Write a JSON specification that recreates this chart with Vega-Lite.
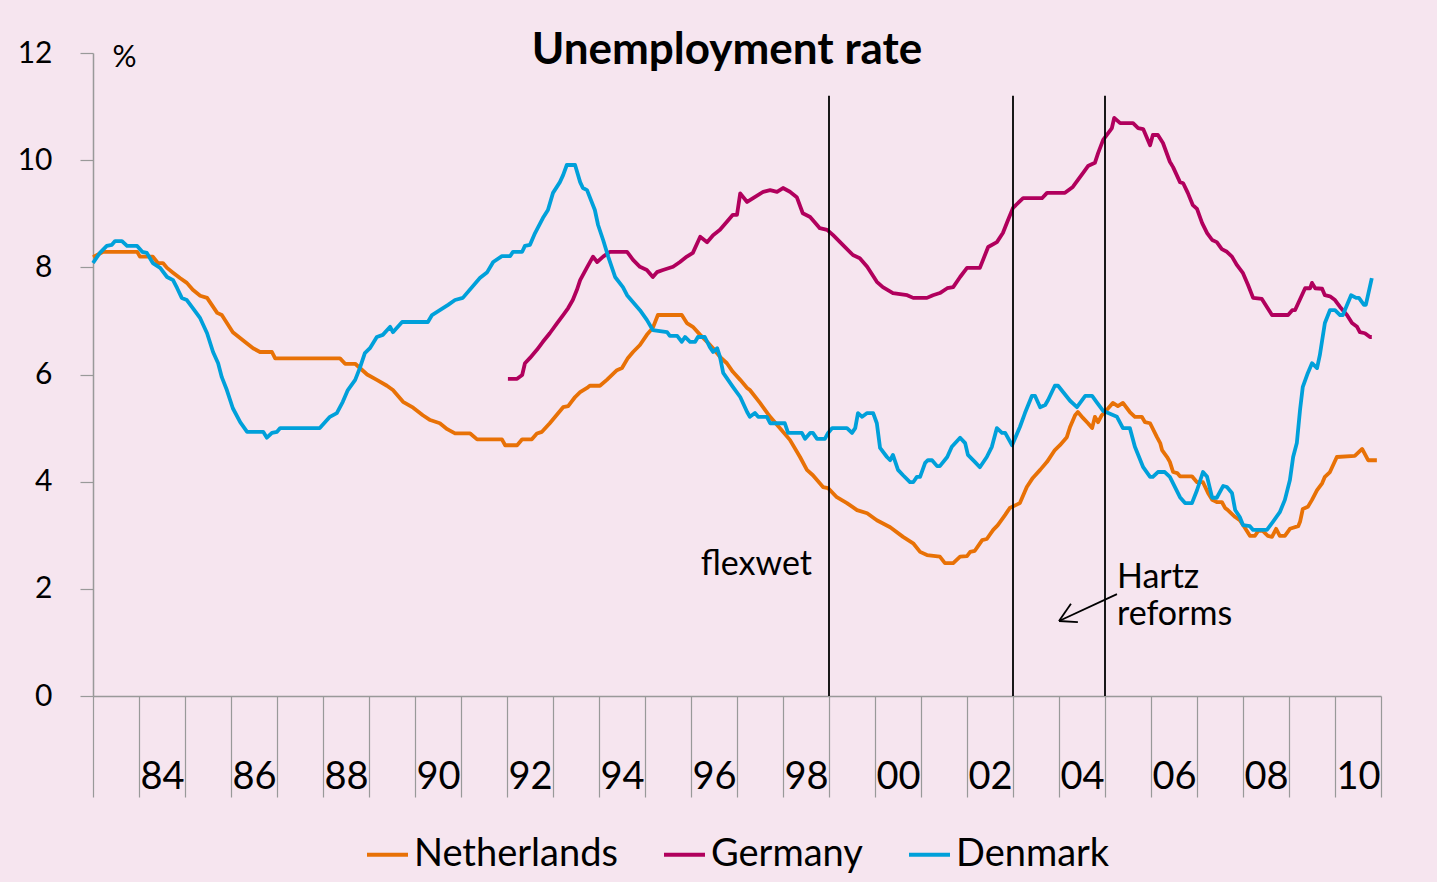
{
  "$schema": "https://vega.github.io/schema/vega-lite/v6.json",
  "width": 1288,
  "height": 643,
  "autosize": {"type": "none"},
  "padding": {"left": 93, "top": 53, "right": 56, "bottom": 186},
  "background": "#F6E5EF",
  "config": {
    "view": {"stroke": null},
    "font": "Lato",
    "legend": {"layout": {"bottom": {"anchor": "middle"}}}
  },
  "title": {
    "text": "Unemployment rate",
    "frame": "group",
    "anchor": "middle",
    "offset": -12,
    "dy": 58,
    "baseline": "alphabetic",
    "dx": -10,
    "font": "Lato",
    "fontSize": 44,
    "fontWeight": "bold",
    "color": "#000000"
  },
  "datasets": {
    "series": [
      {"country":"Netherlands","year":1983.00,"rate":8.19},
      {"country":"Netherlands","year":1983.22,"rate":8.29},
      {"country":"Netherlands","year":1983.96,"rate":8.29},
      {"country":"Netherlands","year":1984.02,"rate":8.2},
      {"country":"Netherlands","year":1984.30,"rate":8.2},
      {"country":"Netherlands","year":1984.41,"rate":8.08},
      {"country":"Netherlands","year":1984.52,"rate":8.08},
      {"country":"Netherlands","year":1984.61,"rate":7.99},
      {"country":"Netherlands","year":1984.74,"rate":7.9},
      {"country":"Netherlands","year":1984.89,"rate":7.8},
      {"country":"Netherlands","year":1985.04,"rate":7.71},
      {"country":"Netherlands","year":1985.17,"rate":7.58},
      {"country":"Netherlands","year":1985.33,"rate":7.47},
      {"country":"Netherlands","year":1985.48,"rate":7.43},
      {"country":"Netherlands","year":1985.70,"rate":7.15},
      {"country":"Netherlands","year":1985.80,"rate":7.11},
      {"country":"Netherlands","year":1986.04,"rate":6.79},
      {"country":"Netherlands","year":1986.30,"rate":6.61},
      {"country":"Netherlands","year":1986.48,"rate":6.49},
      {"country":"Netherlands","year":1986.63,"rate":6.42},
      {"country":"Netherlands","year":1986.89,"rate":6.42},
      {"country":"Netherlands","year":1986.96,"rate":6.3},
      {"country":"Netherlands","year":1988.37,"rate":6.3},
      {"country":"Netherlands","year":1988.48,"rate":6.2},
      {"country":"Netherlands","year":1988.70,"rate":6.2},
      {"country":"Netherlands","year":1988.96,"rate":6.0},
      {"country":"Netherlands","year":1989.17,"rate":5.9},
      {"country":"Netherlands","year":1989.39,"rate":5.79},
      {"country":"Netherlands","year":1989.52,"rate":5.71},
      {"country":"Netherlands","year":1989.74,"rate":5.49},
      {"country":"Netherlands","year":1989.96,"rate":5.38},
      {"country":"Netherlands","year":1990.17,"rate":5.24},
      {"country":"Netherlands","year":1990.33,"rate":5.15},
      {"country":"Netherlands","year":1990.54,"rate":5.09},
      {"country":"Netherlands","year":1990.70,"rate":4.98},
      {"country":"Netherlands","year":1990.87,"rate":4.9},
      {"country":"Netherlands","year":1991.20,"rate":4.9},
      {"country":"Netherlands","year":1991.35,"rate":4.79},
      {"country":"Netherlands","year":1991.89,"rate":4.79},
      {"country":"Netherlands","year":1991.96,"rate":4.68},
      {"country":"Netherlands","year":1992.22,"rate":4.68},
      {"country":"Netherlands","year":1992.33,"rate":4.79},
      {"country":"Netherlands","year":1992.54,"rate":4.79},
      {"country":"Netherlands","year":1992.65,"rate":4.9},
      {"country":"Netherlands","year":1992.76,"rate":4.93},
      {"country":"Netherlands","year":1992.93,"rate":5.09},
      {"country":"Netherlands","year":1993.22,"rate":5.39},
      {"country":"Netherlands","year":1993.33,"rate":5.41},
      {"country":"Netherlands","year":1993.48,"rate":5.58},
      {"country":"Netherlands","year":1993.59,"rate":5.67},
      {"country":"Netherlands","year":1993.74,"rate":5.75},
      {"country":"Netherlands","year":1993.80,"rate":5.79},
      {"country":"Netherlands","year":1994.02,"rate":5.79},
      {"country":"Netherlands","year":1994.17,"rate":5.9},
      {"country":"Netherlands","year":1994.39,"rate":6.08},
      {"country":"Netherlands","year":1994.50,"rate":6.12},
      {"country":"Netherlands","year":1994.63,"rate":6.31},
      {"country":"Netherlands","year":1994.74,"rate":6.42},
      {"country":"Netherlands","year":1994.89,"rate":6.55},
      {"country":"Netherlands","year":1995.04,"rate":6.74},
      {"country":"Netherlands","year":1995.17,"rate":6.87},
      {"country":"Netherlands","year":1995.28,"rate":7.11},
      {"country":"Netherlands","year":1995.80,"rate":7.11},
      {"country":"Netherlands","year":1995.91,"rate":6.96},
      {"country":"Netherlands","year":1996.04,"rate":6.89},
      {"country":"Netherlands","year":1996.20,"rate":6.74},
      {"country":"Netherlands","year":1996.35,"rate":6.61},
      {"country":"Netherlands","year":1996.48,"rate":6.49},
      {"country":"Netherlands","year":1996.63,"rate":6.33},
      {"country":"Netherlands","year":1996.78,"rate":6.21},
      {"country":"Netherlands","year":1996.91,"rate":6.05},
      {"country":"Netherlands","year":1997.07,"rate":5.9},
      {"country":"Netherlands","year":1997.22,"rate":5.75},
      {"country":"Netherlands","year":1997.28,"rate":5.71},
      {"country":"Netherlands","year":1997.50,"rate":5.47},
      {"country":"Netherlands","year":1997.72,"rate":5.21},
      {"country":"Netherlands","year":1997.93,"rate":5.0},
      {"country":"Netherlands","year":1998.15,"rate":4.78},
      {"country":"Netherlands","year":1998.37,"rate":4.46},
      {"country":"Netherlands","year":1998.52,"rate":4.22},
      {"country":"Netherlands","year":1998.65,"rate":4.12},
      {"country":"Netherlands","year":1998.80,"rate":3.97},
      {"country":"Netherlands","year":1998.87,"rate":3.9},
      {"country":"Netherlands","year":1998.98,"rate":3.88},
      {"country":"Netherlands","year":1999.17,"rate":3.71},
      {"country":"Netherlands","year":1999.39,"rate":3.6},
      {"country":"Netherlands","year":1999.61,"rate":3.47},
      {"country":"Netherlands","year":1999.83,"rate":3.41},
      {"country":"Netherlands","year":2000.04,"rate":3.28},
      {"country":"Netherlands","year":2000.33,"rate":3.15},
      {"country":"Netherlands","year":2000.61,"rate":2.97},
      {"country":"Netherlands","year":2000.83,"rate":2.85},
      {"country":"Netherlands","year":2000.98,"rate":2.69},
      {"country":"Netherlands","year":2001.13,"rate":2.63},
      {"country":"Netherlands","year":2001.41,"rate":2.6},
      {"country":"Netherlands","year":2001.52,"rate":2.48},
      {"country":"Netherlands","year":2001.70,"rate":2.48},
      {"country":"Netherlands","year":2001.85,"rate":2.6},
      {"country":"Netherlands","year":2002.00,"rate":2.61},
      {"country":"Netherlands","year":2002.07,"rate":2.69},
      {"country":"Netherlands","year":2002.17,"rate":2.71},
      {"country":"Netherlands","year":2002.33,"rate":2.91},
      {"country":"Netherlands","year":2002.43,"rate":2.93},
      {"country":"Netherlands","year":2002.57,"rate":3.1},
      {"country":"Netherlands","year":2002.67,"rate":3.19},
      {"country":"Netherlands","year":2002.83,"rate":3.38},
      {"country":"Netherlands","year":2002.93,"rate":3.51},
      {"country":"Netherlands","year":2003.15,"rate":3.6},
      {"country":"Netherlands","year":2003.30,"rate":3.9},
      {"country":"Netherlands","year":2003.43,"rate":4.07},
      {"country":"Netherlands","year":2003.59,"rate":4.22},
      {"country":"Netherlands","year":2003.74,"rate":4.37},
      {"country":"Netherlands","year":2003.91,"rate":4.59},
      {"country":"Netherlands","year":2004.02,"rate":4.68},
      {"country":"Netherlands","year":2004.17,"rate":4.83},
      {"country":"Netherlands","year":2004.24,"rate":5.02},
      {"country":"Netherlands","year":2004.35,"rate":5.24},
      {"country":"Netherlands","year":2004.41,"rate":5.3},
      {"country":"Netherlands","year":2004.52,"rate":5.19},
      {"country":"Netherlands","year":2004.63,"rate":5.09},
      {"country":"Netherlands","year":2004.72,"rate":5.0},
      {"country":"Netherlands","year":2004.78,"rate":5.21},
      {"country":"Netherlands","year":2004.85,"rate":5.11},
      {"country":"Netherlands","year":2004.93,"rate":5.24},
      {"country":"Netherlands","year":2005.07,"rate":5.37},
      {"country":"Netherlands","year":2005.17,"rate":5.47},
      {"country":"Netherlands","year":2005.28,"rate":5.41},
      {"country":"Netherlands","year":2005.39,"rate":5.47},
      {"country":"Netherlands","year":2005.54,"rate":5.3},
      {"country":"Netherlands","year":2005.65,"rate":5.21},
      {"country":"Netherlands","year":2005.80,"rate":5.21},
      {"country":"Netherlands","year":2005.87,"rate":5.11},
      {"country":"Netherlands","year":2005.98,"rate":5.09},
      {"country":"Netherlands","year":2006.13,"rate":4.83},
      {"country":"Netherlands","year":2006.20,"rate":4.72},
      {"country":"Netherlands","year":2006.24,"rate":4.59},
      {"country":"Netherlands","year":2006.35,"rate":4.46},
      {"country":"Netherlands","year":2006.41,"rate":4.37},
      {"country":"Netherlands","year":2006.48,"rate":4.18},
      {"country":"Netherlands","year":2006.57,"rate":4.16},
      {"country":"Netherlands","year":2006.63,"rate":4.1},
      {"country":"Netherlands","year":2006.89,"rate":4.1},
      {"country":"Netherlands","year":2007.00,"rate":3.99},
      {"country":"Netherlands","year":2007.13,"rate":3.99},
      {"country":"Netherlands","year":2007.24,"rate":3.79},
      {"country":"Netherlands","year":2007.33,"rate":3.66},
      {"country":"Netherlands","year":2007.43,"rate":3.62},
      {"country":"Netherlands","year":2007.54,"rate":3.62},
      {"country":"Netherlands","year":2007.61,"rate":3.51},
      {"country":"Netherlands","year":2007.67,"rate":3.47},
      {"country":"Netherlands","year":2007.83,"rate":3.34},
      {"country":"Netherlands","year":2007.93,"rate":3.28},
      {"country":"Netherlands","year":2008.04,"rate":3.14},
      {"country":"Netherlands","year":2008.15,"rate":2.99},
      {"country":"Netherlands","year":2008.26,"rate":2.99},
      {"country":"Netherlands","year":2008.33,"rate":3.08},
      {"country":"Netherlands","year":2008.43,"rate":3.08},
      {"country":"Netherlands","year":2008.54,"rate":2.99},
      {"country":"Netherlands","year":2008.63,"rate":2.97},
      {"country":"Netherlands","year":2008.72,"rate":3.12},
      {"country":"Netherlands","year":2008.80,"rate":2.99},
      {"country":"Netherlands","year":2008.91,"rate":2.99},
      {"country":"Netherlands","year":2009.02,"rate":3.12},
      {"country":"Netherlands","year":2009.09,"rate":3.14},
      {"country":"Netherlands","year":2009.20,"rate":3.17},
      {"country":"Netherlands","year":2009.24,"rate":3.25},
      {"country":"Netherlands","year":2009.30,"rate":3.49},
      {"country":"Netherlands","year":2009.41,"rate":3.53},
      {"country":"Netherlands","year":2009.50,"rate":3.66},
      {"country":"Netherlands","year":2009.61,"rate":3.84},
      {"country":"Netherlands","year":2009.72,"rate":3.97},
      {"country":"Netherlands","year":2009.78,"rate":4.09},
      {"country":"Netherlands","year":2009.89,"rate":4.18},
      {"country":"Netherlands","year":2010.04,"rate":4.46},
      {"country":"Netherlands","year":2010.43,"rate":4.48},
      {"country":"Netherlands","year":2010.59,"rate":4.61},
      {"country":"Netherlands","year":2010.72,"rate":4.4},
      {"country":"Netherlands","year":2010.91,"rate":4.4},

      {"country":"Germany","year":1992.02,"rate":5.92},
      {"country":"Germany","year":1992.22,"rate":5.92},
      {"country":"Germany","year":1992.33,"rate":5.99},
      {"country":"Germany","year":1992.39,"rate":6.21},
      {"country":"Germany","year":1992.50,"rate":6.31},
      {"country":"Germany","year":1992.65,"rate":6.46},
      {"country":"Germany","year":1992.78,"rate":6.61},
      {"country":"Germany","year":1992.93,"rate":6.77},
      {"country":"Germany","year":1993.09,"rate":6.96},
      {"country":"Germany","year":1993.22,"rate":7.11},
      {"country":"Germany","year":1993.33,"rate":7.24},
      {"country":"Germany","year":1993.43,"rate":7.39},
      {"country":"Germany","year":1993.52,"rate":7.58},
      {"country":"Germany","year":1993.59,"rate":7.76},
      {"country":"Germany","year":1993.74,"rate":8.0},
      {"country":"Germany","year":1993.87,"rate":8.2},
      {"country":"Germany","year":1993.96,"rate":8.1},
      {"country":"Germany","year":1994.09,"rate":8.2},
      {"country":"Germany","year":1994.24,"rate":8.29},
      {"country":"Germany","year":1994.61,"rate":8.29},
      {"country":"Germany","year":1994.74,"rate":8.14},
      {"country":"Germany","year":1994.89,"rate":8.01},
      {"country":"Germany","year":1995.04,"rate":7.95},
      {"country":"Germany","year":1995.17,"rate":7.82},
      {"country":"Germany","year":1995.26,"rate":7.91},
      {"country":"Germany","year":1995.39,"rate":7.95},
      {"country":"Germany","year":1995.61,"rate":8.01},
      {"country":"Germany","year":1995.76,"rate":8.1},
      {"country":"Germany","year":1995.91,"rate":8.2},
      {"country":"Germany","year":1996.04,"rate":8.27},
      {"country":"Germany","year":1996.20,"rate":8.57},
      {"country":"Germany","year":1996.35,"rate":8.47},
      {"country":"Germany","year":1996.48,"rate":8.6},
      {"country":"Germany","year":1996.63,"rate":8.7},
      {"country":"Germany","year":1996.78,"rate":8.85},
      {"country":"Germany","year":1996.91,"rate":8.98},
      {"country":"Germany","year":1997.00,"rate":8.98},
      {"country":"Germany","year":1997.07,"rate":9.38},
      {"country":"Germany","year":1997.22,"rate":9.22},
      {"country":"Germany","year":1997.35,"rate":9.29},
      {"country":"Germany","year":1997.57,"rate":9.41},
      {"country":"Germany","year":1997.72,"rate":9.44},
      {"country":"Germany","year":1997.87,"rate":9.41},
      {"country":"Germany","year":1998.00,"rate":9.48},
      {"country":"Germany","year":1998.15,"rate":9.41},
      {"country":"Germany","year":1998.30,"rate":9.31},
      {"country":"Germany","year":1998.43,"rate":9.01},
      {"country":"Germany","year":1998.59,"rate":8.94},
      {"country":"Germany","year":1998.74,"rate":8.79},
      {"country":"Germany","year":1998.80,"rate":8.73},
      {"country":"Germany","year":1998.96,"rate":8.7},
      {"country":"Germany","year":1999.09,"rate":8.6},
      {"country":"Germany","year":1999.30,"rate":8.42},
      {"country":"Germany","year":1999.52,"rate":8.23},
      {"country":"Germany","year":1999.67,"rate":8.17},
      {"country":"Germany","year":1999.83,"rate":8.01},
      {"country":"Germany","year":2000.04,"rate":7.73},
      {"country":"Germany","year":2000.17,"rate":7.63},
      {"country":"Germany","year":2000.39,"rate":7.52},
      {"country":"Germany","year":2000.70,"rate":7.48},
      {"country":"Germany","year":2000.83,"rate":7.43},
      {"country":"Germany","year":2001.13,"rate":7.43},
      {"country":"Germany","year":2001.26,"rate":7.48},
      {"country":"Germany","year":2001.41,"rate":7.52},
      {"country":"Germany","year":2001.57,"rate":7.61},
      {"country":"Germany","year":2001.70,"rate":7.63},
      {"country":"Germany","year":2001.85,"rate":7.82},
      {"country":"Germany","year":2002.00,"rate":7.99},
      {"country":"Germany","year":2002.28,"rate":7.99},
      {"country":"Germany","year":2002.46,"rate":8.38},
      {"country":"Germany","year":2002.65,"rate":8.47},
      {"country":"Germany","year":2002.78,"rate":8.64},
      {"country":"Germany","year":2002.89,"rate":8.88},
      {"country":"Germany","year":2003.00,"rate":9.11},
      {"country":"Germany","year":2003.22,"rate":9.29},
      {"country":"Germany","year":2003.63,"rate":9.29},
      {"country":"Germany","year":2003.74,"rate":9.39},
      {"country":"Germany","year":2004.13,"rate":9.39},
      {"country":"Germany","year":2004.30,"rate":9.5},
      {"country":"Germany","year":2004.52,"rate":9.76},
      {"country":"Germany","year":2004.63,"rate":9.89},
      {"country":"Germany","year":2004.78,"rate":9.95},
      {"country":"Germany","year":2004.85,"rate":10.13},
      {"country":"Germany","year":2004.96,"rate":10.38},
      {"country":"Germany","year":2005.15,"rate":10.6},
      {"country":"Germany","year":2005.20,"rate":10.79},
      {"country":"Germany","year":2005.33,"rate":10.69},
      {"country":"Germany","year":2005.61,"rate":10.69},
      {"country":"Germany","year":2005.72,"rate":10.6},
      {"country":"Germany","year":2005.83,"rate":10.58},
      {"country":"Germany","year":2005.98,"rate":10.28},
      {"country":"Germany","year":2006.04,"rate":10.47},
      {"country":"Germany","year":2006.15,"rate":10.47},
      {"country":"Germany","year":2006.26,"rate":10.32},
      {"country":"Germany","year":2006.41,"rate":9.97},
      {"country":"Germany","year":2006.48,"rate":9.87},
      {"country":"Germany","year":2006.63,"rate":9.59},
      {"country":"Germany","year":2006.70,"rate":9.57},
      {"country":"Germany","year":2006.80,"rate":9.39},
      {"country":"Germany","year":2006.91,"rate":9.16},
      {"country":"Germany","year":2007.00,"rate":9.09},
      {"country":"Germany","year":2007.11,"rate":8.83},
      {"country":"Germany","year":2007.22,"rate":8.64},
      {"country":"Germany","year":2007.33,"rate":8.51},
      {"country":"Germany","year":2007.43,"rate":8.47},
      {"country":"Germany","year":2007.54,"rate":8.34},
      {"country":"Germany","year":2007.65,"rate":8.29},
      {"country":"Germany","year":2007.76,"rate":8.2},
      {"country":"Germany","year":2007.87,"rate":8.04},
      {"country":"Germany","year":2008.00,"rate":7.89},
      {"country":"Germany","year":2008.11,"rate":7.67},
      {"country":"Germany","year":2008.22,"rate":7.43},
      {"country":"Germany","year":2008.41,"rate":7.41},
      {"country":"Germany","year":2008.52,"rate":7.26},
      {"country":"Germany","year":2008.63,"rate":7.11},
      {"country":"Germany","year":2008.98,"rate":7.11},
      {"country":"Germany","year":2009.07,"rate":7.2},
      {"country":"Germany","year":2009.13,"rate":7.2},
      {"country":"Germany","year":2009.28,"rate":7.48},
      {"country":"Germany","year":2009.35,"rate":7.61},
      {"country":"Germany","year":2009.46,"rate":7.61},
      {"country":"Germany","year":2009.50,"rate":7.71},
      {"country":"Germany","year":2009.57,"rate":7.61},
      {"country":"Germany","year":2009.72,"rate":7.6},
      {"country":"Germany","year":2009.78,"rate":7.48},
      {"country":"Germany","year":2009.89,"rate":7.46},
      {"country":"Germany","year":2010.00,"rate":7.39},
      {"country":"Germany","year":2010.11,"rate":7.26},
      {"country":"Germany","year":2010.26,"rate":7.11},
      {"country":"Germany","year":2010.37,"rate":6.96},
      {"country":"Germany","year":2010.48,"rate":6.89},
      {"country":"Germany","year":2010.54,"rate":6.79},
      {"country":"Germany","year":2010.65,"rate":6.77},
      {"country":"Germany","year":2010.76,"rate":6.7},
      {"country":"Germany","year":2010.80,"rate":6.7},

      {"country":"Denmark","year":1983.00,"rate":8.08},
      {"country":"Denmark","year":1983.15,"rate":8.27},
      {"country":"Denmark","year":1983.30,"rate":8.4},
      {"country":"Denmark","year":1983.41,"rate":8.42},
      {"country":"Denmark","year":1983.48,"rate":8.49},
      {"country":"Denmark","year":1983.63,"rate":8.49},
      {"country":"Denmark","year":1983.74,"rate":8.4},
      {"country":"Denmark","year":1983.96,"rate":8.4},
      {"country":"Denmark","year":1984.07,"rate":8.29},
      {"country":"Denmark","year":1984.17,"rate":8.27},
      {"country":"Denmark","year":1984.30,"rate":8.08},
      {"country":"Denmark","year":1984.46,"rate":7.99},
      {"country":"Denmark","year":1984.61,"rate":7.82},
      {"country":"Denmark","year":1984.74,"rate":7.76},
      {"country":"Denmark","year":1984.83,"rate":7.61},
      {"country":"Denmark","year":1984.93,"rate":7.43},
      {"country":"Denmark","year":1985.04,"rate":7.39},
      {"country":"Denmark","year":1985.17,"rate":7.24},
      {"country":"Denmark","year":1985.33,"rate":7.05},
      {"country":"Denmark","year":1985.48,"rate":6.77},
      {"country":"Denmark","year":1985.61,"rate":6.42},
      {"country":"Denmark","year":1985.72,"rate":6.21},
      {"country":"Denmark","year":1985.80,"rate":5.95},
      {"country":"Denmark","year":1985.91,"rate":5.71},
      {"country":"Denmark","year":1986.04,"rate":5.37},
      {"country":"Denmark","year":1986.20,"rate":5.11},
      {"country":"Denmark","year":1986.35,"rate":4.93},
      {"country":"Denmark","year":1986.70,"rate":4.93},
      {"country":"Denmark","year":1986.78,"rate":4.82},
      {"country":"Denmark","year":1986.89,"rate":4.91},
      {"country":"Denmark","year":1987.00,"rate":4.93},
      {"country":"Denmark","year":1987.07,"rate":5.0},
      {"country":"Denmark","year":1987.93,"rate":5.0},
      {"country":"Denmark","year":1988.15,"rate":5.21},
      {"country":"Denmark","year":1988.30,"rate":5.28},
      {"country":"Denmark","year":1988.43,"rate":5.49},
      {"country":"Denmark","year":1988.54,"rate":5.71},
      {"country":"Denmark","year":1988.70,"rate":5.9},
      {"country":"Denmark","year":1988.80,"rate":6.12},
      {"country":"Denmark","year":1988.91,"rate":6.4},
      {"country":"Denmark","year":1989.02,"rate":6.49},
      {"country":"Denmark","year":1989.17,"rate":6.7},
      {"country":"Denmark","year":1989.30,"rate":6.74},
      {"country":"Denmark","year":1989.46,"rate":6.89},
      {"country":"Denmark","year":1989.52,"rate":6.79},
      {"country":"Denmark","year":1989.72,"rate":6.98},
      {"country":"Denmark","year":1990.28,"rate":6.98},
      {"country":"Denmark","year":1990.37,"rate":7.11},
      {"country":"Denmark","year":1990.54,"rate":7.2},
      {"country":"Denmark","year":1990.72,"rate":7.3},
      {"country":"Denmark","year":1990.87,"rate":7.39},
      {"country":"Denmark","year":1991.04,"rate":7.43},
      {"country":"Denmark","year":1991.41,"rate":7.8},
      {"country":"Denmark","year":1991.57,"rate":7.91},
      {"country":"Denmark","year":1991.70,"rate":8.1},
      {"country":"Denmark","year":1991.89,"rate":8.21},
      {"country":"Denmark","year":1992.07,"rate":8.21},
      {"country":"Denmark","year":1992.13,"rate":8.29},
      {"country":"Denmark","year":1992.33,"rate":8.29},
      {"country":"Denmark","year":1992.39,"rate":8.4},
      {"country":"Denmark","year":1992.50,"rate":8.42},
      {"country":"Denmark","year":1992.61,"rate":8.64},
      {"country":"Denmark","year":1992.78,"rate":8.92},
      {"country":"Denmark","year":1992.89,"rate":9.07},
      {"country":"Denmark","year":1993.00,"rate":9.39},
      {"country":"Denmark","year":1993.15,"rate":9.59},
      {"country":"Denmark","year":1993.22,"rate":9.72},
      {"country":"Denmark","year":1993.30,"rate":9.91},
      {"country":"Denmark","year":1993.48,"rate":9.91},
      {"country":"Denmark","year":1993.59,"rate":9.59},
      {"country":"Denmark","year":1993.65,"rate":9.48},
      {"country":"Denmark","year":1993.74,"rate":9.44},
      {"country":"Denmark","year":1993.91,"rate":9.07},
      {"country":"Denmark","year":1993.98,"rate":8.79},
      {"country":"Denmark","year":1994.09,"rate":8.51},
      {"country":"Denmark","year":1994.20,"rate":8.2},
      {"country":"Denmark","year":1994.35,"rate":7.82},
      {"country":"Denmark","year":1994.52,"rate":7.63},
      {"country":"Denmark","year":1994.61,"rate":7.48},
      {"country":"Denmark","year":1994.89,"rate":7.2},
      {"country":"Denmark","year":1995.04,"rate":7.02},
      {"country":"Denmark","year":1995.17,"rate":6.83},
      {"country":"Denmark","year":1995.48,"rate":6.79},
      {"country":"Denmark","year":1995.54,"rate":6.72},
      {"country":"Denmark","year":1995.70,"rate":6.72},
      {"country":"Denmark","year":1995.80,"rate":6.61},
      {"country":"Denmark","year":1995.87,"rate":6.7},
      {"country":"Denmark","year":1995.98,"rate":6.61},
      {"country":"Denmark","year":1996.09,"rate":6.61},
      {"country":"Denmark","year":1996.15,"rate":6.7},
      {"country":"Denmark","year":1996.30,"rate":6.7},
      {"country":"Denmark","year":1996.41,"rate":6.51},
      {"country":"Denmark","year":1996.48,"rate":6.42},
      {"country":"Denmark","year":1996.57,"rate":6.49},
      {"country":"Denmark","year":1996.63,"rate":6.33},
      {"country":"Denmark","year":1996.70,"rate":6.03},
      {"country":"Denmark","year":1996.91,"rate":5.77},
      {"country":"Denmark","year":1997.07,"rate":5.58},
      {"country":"Denmark","year":1997.22,"rate":5.3},
      {"country":"Denmark","year":1997.28,"rate":5.21},
      {"country":"Denmark","year":1997.39,"rate":5.28},
      {"country":"Denmark","year":1997.46,"rate":5.21},
      {"country":"Denmark","year":1997.65,"rate":5.21},
      {"country":"Denmark","year":1997.72,"rate":5.09},
      {"country":"Denmark","year":1998.04,"rate":5.09},
      {"country":"Denmark","year":1998.11,"rate":4.91},
      {"country":"Denmark","year":1998.41,"rate":4.91},
      {"country":"Denmark","year":1998.48,"rate":4.8},
      {"country":"Denmark","year":1998.59,"rate":4.91},
      {"country":"Denmark","year":1998.65,"rate":4.91},
      {"country":"Denmark","year":1998.74,"rate":4.8},
      {"country":"Denmark","year":1998.91,"rate":4.8},
      {"country":"Denmark","year":1998.98,"rate":4.91},
      {"country":"Denmark","year":1999.07,"rate":5.0},
      {"country":"Denmark","year":1999.39,"rate":5.0},
      {"country":"Denmark","year":1999.50,"rate":4.91},
      {"country":"Denmark","year":1999.57,"rate":5.0},
      {"country":"Denmark","year":1999.63,"rate":5.28},
      {"country":"Denmark","year":1999.72,"rate":5.21},
      {"country":"Denmark","year":1999.83,"rate":5.28},
      {"country":"Denmark","year":1999.96,"rate":5.28},
      {"country":"Denmark","year":2000.04,"rate":5.09},
      {"country":"Denmark","year":2000.11,"rate":4.63},
      {"country":"Denmark","year":2000.26,"rate":4.46},
      {"country":"Denmark","year":2000.33,"rate":4.4},
      {"country":"Denmark","year":2000.39,"rate":4.5},
      {"country":"Denmark","year":2000.50,"rate":4.22},
      {"country":"Denmark","year":2000.61,"rate":4.12},
      {"country":"Denmark","year":2000.76,"rate":3.99},
      {"country":"Denmark","year":2000.83,"rate":3.99},
      {"country":"Denmark","year":2000.91,"rate":4.09},
      {"country":"Denmark","year":2000.98,"rate":4.09},
      {"country":"Denmark","year":2001.09,"rate":4.35},
      {"country":"Denmark","year":2001.15,"rate":4.4},
      {"country":"Denmark","year":2001.24,"rate":4.4},
      {"country":"Denmark","year":2001.35,"rate":4.29},
      {"country":"Denmark","year":2001.41,"rate":4.29},
      {"country":"Denmark","year":2001.57,"rate":4.46},
      {"country":"Denmark","year":2001.67,"rate":4.65},
      {"country":"Denmark","year":2001.85,"rate":4.82},
      {"country":"Denmark","year":2001.96,"rate":4.72},
      {"country":"Denmark","year":2002.02,"rate":4.5},
      {"country":"Denmark","year":2002.17,"rate":4.37},
      {"country":"Denmark","year":2002.28,"rate":4.27},
      {"country":"Denmark","year":2002.43,"rate":4.46},
      {"country":"Denmark","year":2002.54,"rate":4.65},
      {"country":"Denmark","year":2002.65,"rate":5.0},
      {"country":"Denmark","year":2002.76,"rate":4.91},
      {"country":"Denmark","year":2002.83,"rate":4.91},
      {"country":"Denmark","year":2002.98,"rate":4.68},
      {"country":"Denmark","year":2003.15,"rate":5.02},
      {"country":"Denmark","year":2003.26,"rate":5.28},
      {"country":"Denmark","year":2003.41,"rate":5.6},
      {"country":"Denmark","year":2003.48,"rate":5.6},
      {"country":"Denmark","year":2003.59,"rate":5.39},
      {"country":"Denmark","year":2003.70,"rate":5.43},
      {"country":"Denmark","year":2003.76,"rate":5.52},
      {"country":"Denmark","year":2003.91,"rate":5.79},
      {"country":"Denmark","year":2003.98,"rate":5.79},
      {"country":"Denmark","year":2004.24,"rate":5.51},
      {"country":"Denmark","year":2004.39,"rate":5.39},
      {"country":"Denmark","year":2004.57,"rate":5.6},
      {"country":"Denmark","year":2004.72,"rate":5.6},
      {"country":"Denmark","year":2004.83,"rate":5.47},
      {"country":"Denmark","year":2004.96,"rate":5.32},
      {"country":"Denmark","year":2005.07,"rate":5.28},
      {"country":"Denmark","year":2005.26,"rate":5.21},
      {"country":"Denmark","year":2005.39,"rate":5.0},
      {"country":"Denmark","year":2005.54,"rate":5.0},
      {"country":"Denmark","year":2005.65,"rate":4.65},
      {"country":"Denmark","year":2005.83,"rate":4.27},
      {"country":"Denmark","year":2005.98,"rate":4.09},
      {"country":"Denmark","year":2006.04,"rate":4.09},
      {"country":"Denmark","year":2006.15,"rate":4.18},
      {"country":"Denmark","year":2006.30,"rate":4.18},
      {"country":"Denmark","year":2006.41,"rate":4.09},
      {"country":"Denmark","year":2006.63,"rate":3.71},
      {"country":"Denmark","year":2006.74,"rate":3.6},
      {"country":"Denmark","year":2006.89,"rate":3.6},
      {"country":"Denmark","year":2007.00,"rate":3.84},
      {"country":"Denmark","year":2007.13,"rate":4.18},
      {"country":"Denmark","year":2007.22,"rate":4.09},
      {"country":"Denmark","year":2007.33,"rate":3.7},
      {"country":"Denmark","year":2007.43,"rate":3.7},
      {"country":"Denmark","year":2007.57,"rate":3.92},
      {"country":"Denmark","year":2007.65,"rate":3.9},
      {"country":"Denmark","year":2007.76,"rate":3.79},
      {"country":"Denmark","year":2007.83,"rate":3.47},
      {"country":"Denmark","year":2007.93,"rate":3.34},
      {"country":"Denmark","year":2008.00,"rate":3.19},
      {"country":"Denmark","year":2008.15,"rate":3.17},
      {"country":"Denmark","year":2008.22,"rate":3.1},
      {"country":"Denmark","year":2008.52,"rate":3.1},
      {"country":"Denmark","year":2008.65,"rate":3.25},
      {"country":"Denmark","year":2008.80,"rate":3.43},
      {"country":"Denmark","year":2008.91,"rate":3.66},
      {"country":"Denmark","year":2009.02,"rate":4.03},
      {"country":"Denmark","year":2009.09,"rate":4.46},
      {"country":"Denmark","year":2009.17,"rate":4.72},
      {"country":"Denmark","year":2009.24,"rate":5.34},
      {"country":"Denmark","year":2009.30,"rate":5.77},
      {"country":"Denmark","year":2009.41,"rate":6.03},
      {"country":"Denmark","year":2009.50,"rate":6.21},
      {"country":"Denmark","year":2009.61,"rate":6.12},
      {"country":"Denmark","year":2009.67,"rate":6.36},
      {"country":"Denmark","year":2009.78,"rate":6.96},
      {"country":"Denmark","year":2009.89,"rate":7.2},
      {"country":"Denmark","year":2010.00,"rate":7.2},
      {"country":"Denmark","year":2010.11,"rate":7.11},
      {"country":"Denmark","year":2010.17,"rate":7.11},
      {"country":"Denmark","year":2010.35,"rate":7.48},
      {"country":"Denmark","year":2010.46,"rate":7.43},
      {"country":"Denmark","year":2010.52,"rate":7.43},
      {"country":"Denmark","year":2010.63,"rate":7.3},
      {"country":"Denmark","year":2010.67,"rate":7.3},
      {"country":"Denmark","year":2010.80,"rate":7.8}
    ],
    "reforms": [
      {"reform": "flexwet", "date": 1999.0, "top": 11.2},
      {"reform": "Hartz", "date": 2003.0, "top": 11.2},
      {"reform": "Hartz", "date": 2005.0, "top": 11.2}
    ],
    "arrow": [
      {"x1": 2005.26, "y1": 1.90, "x2": 2004.0, "y2": 1.40},
      {"x1": 2004.0, "y1": 1.40, "x2": 2004.26, "y2": 1.72},
      {"x1": 2004.0, "y1": 1.40, "x2": 2004.41, "y2": 1.38}
    ],
    "labelRight": [
      {"text": "flexwet", "date": 1998.63, "level": 2.26}
    ],
    "labelLeft": [
      {"text": "Hartz", "date": 2005.26, "level": 2.02},
      {"text": "reforms", "date": 2005.26, "level": 1.33}
    ]
  },
  "layer": [
    {
      "data": {"name": "series"},
      "mark": {"type": "line", "strokeWidth": 3.8, "strokeJoin": "round", "clip": false},
      "encoding": {
        "x": {
          "field": "year",
          "type": "quantitative",
          "scale": {"domain": [1983, 2011], "nice": false, "zero": false},
          "axis": {
            "title": null,
            "values": [1983,1984,1985,1986,1987,1988,1989,1990,1991,1992,1993,1994,1995,1996,1997,1998,1999,2000,2001,2002,2003,2004,2005,2006,2007,2008,2009,2010,2011],
            "tickSize": 101,
            "tickColor": "#999999",
            "tickWidth": 1.2,
            "domainColor": "#999999",
            "domainWidth": 1.5,
            "grid": false,
            "labelExpr": "(datum.value % 2 == 0 && datum.value < 2011) ? slice('' + datum.value, 2) : ''",
            "labelOffset": 23,
            "labelPadding": -9,
            "labelBaseline": "alphabetic",
            "labelFont": "Lato",
            "labelFontSize": 38,
            "labelColor": "#000000",
            "labelOverlap": false,
            "labelFlush": false,
            "labelBound": false
          }
        },
        "y": {
          "field": "rate",
          "type": "quantitative",
          "scale": {"domain": [0, 12], "nice": false},
          "axis": {
            "values": [0, 2, 4, 6, 8, 10, 12],
            "format": "d",
            "title": "%",
            "titleAngle": 0,
            "titleX": 19,
            "titleY": 13,
            "titleAlign": "left",
            "titleBaseline": "alphabetic",
            "titleFont": "Lato",
            "titleFontSize": 30,
            "titleFontWeight": "normal",
            "titleColor": "#000000",
            "tickSize": 13,
            "tickColor": "#999999",
            "tickWidth": 1.2,
            "domainColor": "#999999",
            "domainWidth": 1.5,
            "grid": false,
            "labelPadding": 28,
            "labelFont": "Lato",
            "labelFontSize": 30,
            "labelColor": "#000000",
            "labelFlush": false,
            "labelBound": false
          }
        },
        "color": {
          "field": "country",
          "type": "nominal",
          "scale": {
            "domain": ["Netherlands", "Germany", "Denmark"],
            "range": ["#E87106", "#B1005D", "#00A0DA"]
          },
          "legend": {
            "title": null,
            "orient": "bottom",
            "direction": "horizontal",
            "offset": 34,
            "symbolType": "stroke",
            "symbolSize": 1681,
            "symbolStrokeWidth": 4,
            "labelFont": "Lato",
            "labelFontSize": 38,
            "labelColor": "#000000",
            "labelOffset": 4,
            "columnPadding": 38,
            "labelLimit": 400
          }
        }
      }
    },
    {
      "data": {"name": "reforms"},
      "mark": {"type": "rule", "color": "#000000", "strokeWidth": 1.8},
      "encoding": {
        "x": {"field": "date", "type": "quantitative"},
        "y": {"field": "top", "type": "quantitative"},
        "y2": {"datum": 0}
      }
    },
    {
      "data": {"name": "arrow"},
      "mark": {"type": "rule", "color": "#000000", "strokeWidth": 1.8},
      "encoding": {
        "x": {"field": "x1", "type": "quantitative"},
        "y": {"field": "y1", "type": "quantitative"},
        "x2": {"field": "x2"},
        "y2": {"field": "y2"}
      }
    },
    {
      "data": {"name": "labelRight"},
      "mark": {"type": "text", "align": "right", "baseline": "alphabetic", "font": "Lato", "fontSize": 34, "color": "#000000"},
      "encoding": {
        "x": {"field": "date", "type": "quantitative"},
        "y": {"field": "level", "type": "quantitative"},
        "text": {"field": "text"}
      }
    },
    {
      "data": {"name": "labelLeft"},
      "mark": {"type": "text", "align": "left", "baseline": "alphabetic", "font": "Lato", "fontSize": 34, "color": "#000000"},
      "encoding": {
        "x": {"field": "date", "type": "quantitative"},
        "y": {"field": "level", "type": "quantitative"},
        "text": {"field": "text"}
      }
    }
  ]
}
